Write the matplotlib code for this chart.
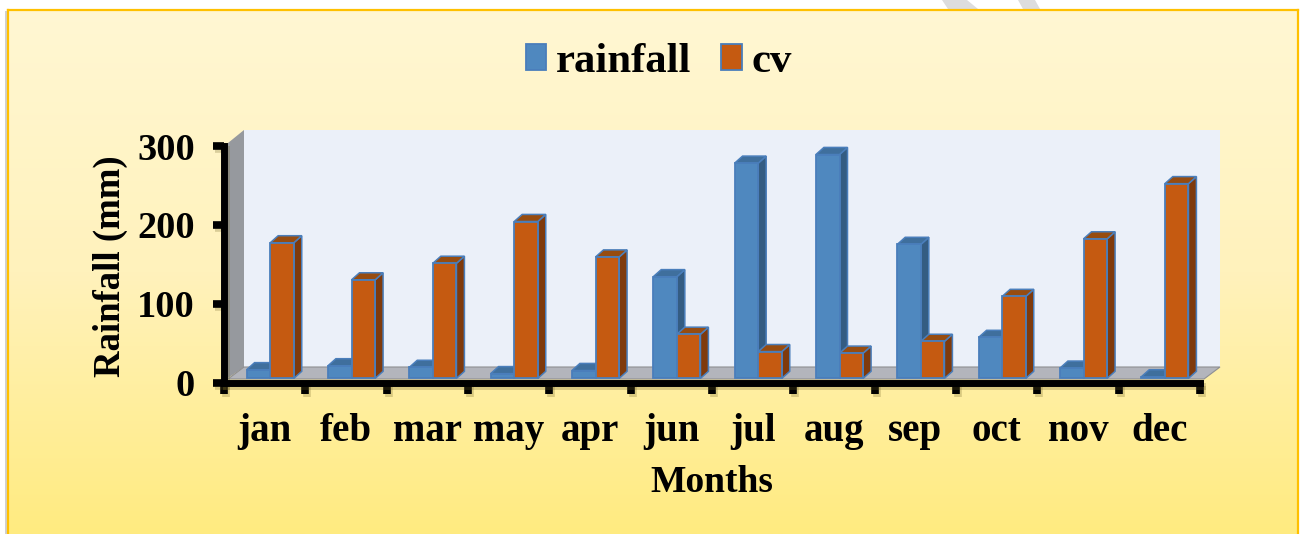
import numpy as np
import matplotlib
matplotlib.use('Agg')
import matplotlib.pyplot as plt
import matplotlib.patheffects as pe
from matplotlib.patches import Polygon, Rectangle
from matplotlib.colors import LinearSegmentedColormap

months = ['jan', 'feb', 'mar', 'may', 'apr', 'jun', 'jul', 'aug', 'sep', 'oct', 'nov', 'dec']
rainfall = [11, 16, 14, 6, 10, 129, 273, 284, 170, 52, 13, 2]
cv = [172, 125, 146, 199, 154, 56, 34, 32, 47, 104, 177, 247]
y_ticks = [0, 100, 200, 300]

W, H = 1302, 534
plt.rcParams['font.family'] = ['Liberation Serif', 'DejaVu Serif']
plt.rcParams['font.weight'] = 'bold'

fig = plt.figure(figsize=(W/100, H/100), dpi=100, facecolor='white')

# fondo en pixeles
bg = fig.add_axes([0, 0, 1, 1])
bg.axis('off')
cmap = LinearSegmentedColormap.from_list('panel', ['#FFF7D3', '#FFF2BC', '#FFEB80'])
grad = np.linspace(0, 1, 256).reshape(-1, 1)
bg.imshow(grad, cmap=cmap, extent=[8, 1297, H, 10], aspect='auto', zorder=1)
bg.set_xlim(0, W)
bg.set_ylim(H, 0)
bg.add_patch(Rectangle((5, 11), 2, H, color='#D0D0D0', lw=0, zorder=0))
bg.plot([8, 8], [H, 10], color='#FFC000', lw=1.6, zorder=2)
bg.plot([8, 1297.5], [9.5, 9.5], color='#FFC000', lw=1.6, zorder=2)
bg.plot([1297.5, 1297.5], [9.5, H], color='#FFC000', lw=1.6, zorder=2)

# marcas grises de la pagina, arriba del panel
bg.add_patch(Polygon([(942, 0), (967, 0), (978, 9), (948, 9)], color='#DDDDDD', lw=0, zorder=0))
bg.add_patch(Polygon([(1018, 0), (1035, 0), (1040, 9), (1023, 9)], color='#DDDDDD', lw=0, zorder=0))

# paredes y piso
bg.add_patch(Rectangle((244, 130), 976, 237, color='#EBF0F9', lw=0, zorder=3))
bg.add_patch(Polygon([(228, 143), (244, 130), (244, 367), (228, 378)], color='#96999E', lw=0, zorder=3))
bg.add_patch(Polygon([(228, 379), (244, 367), (1220, 367), (1204, 379)], fc='#B3B5BC', ec='#8E8F92', lw=0.8, zorder=3))

ax = fig.add_axes([224/W, 1-382.5/H, 976/W, 236.5/H])
ax.patch.set_alpha(0)
ax.set_xlim(-0.5, 11.5)
ax.set_ylim(0, 300)

x = np.arange(len(months))
width = 0.29
shift = 0.068
base = 5.2
depth_x = 0.098
depth_y = 9


def draw_bars(xs, vals, front, top, side, edge, label):
    for xi, v in zip(xs, vals):
        y0, y1 = base, base + v
        x0, x1 = xi - width/2, xi + width/2
        ax.add_patch(Polygon([(x1, y0), (x1+depth_x, y0+depth_y), (x1+depth_x, y1+depth_y), (x1, y1)],
                             fc=side, ec=edge, lw=1.1, zorder=3))
        ax.add_patch(Polygon([(x0, y1), (x0+depth_x, y1+depth_y), (x1+depth_x, y1+depth_y), (x1, y1)],
                             fc=top, ec=edge, lw=1.1, zorder=3))
    return ax.bar(xs, vals, width, bottom=base, color=front, edgecolor=edge, linewidth=1.3, zorder=4, label=label)


b1 = draw_bars(x + shift - width/2, rainfall, '#4F88BF', '#3F6F9D', '#345C82', '#4A7EBB', 'rainfall')
b2 = draw_bars(x + shift + width/2, cv, '#C55A11', '#974C10', '#7F3A0C', '#4A7EBB', 'cv')

# ejes
shadow = [pe.SimpleLineShadow(offset=(1.5, -2.5), shadow_color='#6B5D20', alpha=0.25), pe.Normal()]
for s in ['top', 'right']:
    ax.spines[s].set_visible(False)
for s in ['left', 'bottom']:
    ax.spines[s].set_linewidth(5)
    ax.spines[s].set_color('black')
    ax.spines[s].set_path_effects(shadow)
    ax.spines[s].set_capstyle('projecting')

ax.set_yticks(y_ticks)
ax.set_yticklabels([str(t) for t in y_ticks], fontsize=27.6, fontweight='bold')
ax.set_xticks(np.arange(-0.5, 12, 1))
ax.set_xticklabels([])
ax.set_xticks(x, months, minor=True, fontsize=28, fontweight='bold')
ax.tick_params(axis='y', length=8, width=5.5, pad=13)
ax.tick_params(axis='x', which='major', length=8, width=5.5)
ax.tick_params(axis='x', which='minor', length=0, pad=22)
for t in ax.xaxis.get_major_ticks() + ax.yaxis.get_major_ticks():
    t.tick1line.set_path_effects(shadow)

ax.set_xlabel('Months', fontsize=27, fontweight='bold', va='baseline')
ax.xaxis.set_label_coords(0.5, (382.5-492)/236.5)
ax.set_ylabel('Rainfall (mm)', fontsize=26.5, fontweight='bold', va='center')
ax.yaxis.set_label_coords((110-224)/976, (382.5-266)/236.5)

leg = fig.legend(handles=[b1, b2], loc='center', bbox_to_anchor=(659/W, 1-62/H), ncol=2, frameon=False,
                 prop={'size': 30.8, 'weight': 'bold'}, handlelength=0.47, handleheight=0.55,
                 handletextpad=0.24, columnspacing=0.70, borderpad=0, borderaxespad=0)

fig.savefig('out.png', dpi=100)
